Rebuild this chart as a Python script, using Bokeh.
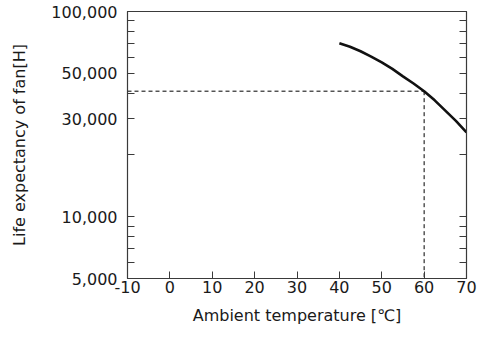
from bokeh.plotting import figure
from bokeh.models import Range1d, LogAxis, FixedTicker
from bokeh.embed import file_html
from bokeh.resources import INLINE

# Data
temps = [40, 42.5, 45, 47.5, 50, 52.5, 55, 57.5, 60, 62.5, 65, 67.5, 70]
life_hours = [70000, 67300, 64000, 60300, 56500, 52500, 48300, 44600,
              40900, 36900, 32900, 29300, 25800]
ref_temp = 60
ref_life = 40900

x_ticks = [-10, 0, 10, 20, 30, 40, 50, 60, 70]
y_major = [5000, 10000, 30000, 50000, 100000]
y_minor = [6000, 7000, 8000, 9000, 20000, 40000, 60000, 70000, 80000, 90000]
y_labels = ["5,000", "10,000", "30,000", "50,000", "100,000"]

FONT = "DejaVu Sans"
TXT = "#1a1a1a"
AX = "#3a3a3a"
FS = "16px"

p = figure(width=478, height=340, y_axis_type="log",
           x_range=Range1d(-10, 70), y_range=Range1d(5000, 100000),
           output_backend="svg", toolbar_location=None,
           min_border_left=127, min_border_right=12,
           min_border_top=11, min_border_bottom=62)
p.grid.visible = False
p.outline_line_color = AX
p.outline_line_width = 1.2
p.background_fill_color = "white"
p.border_fill_color = "white"

# x axis
xa = p.xaxis[0]
xa.ticker = FixedTicker(ticks=x_ticks, minor_ticks=[])
xa.major_label_overrides = {t: str(t) for t in x_ticks}
xa.major_tick_in = 7
xa.major_tick_out = 0
xa.minor_tick_line_color = None
xa.axis_line_color = AX
xa.major_tick_line_color = AX
xa.major_label_text_font = FONT
xa.major_label_text_font_size = FS
xa.major_label_text_color = TXT
xa.major_label_standoff = 2
xa.axis_label = "Ambient temperature [℃]"
xa.axis_label_text_font = FONT
xa.axis_label_text_font_size = FS
xa.axis_label_text_font_style = "normal"
xa.axis_label_text_color = TXT
xa.axis_label_standoff = 10

# y axis (left)
ya = p.yaxis[0]
ya.ticker = FixedTicker(ticks=y_major, minor_ticks=y_minor)
ya.major_label_overrides = dict(zip(y_major, y_labels))
ya.major_tick_in = 7
ya.major_tick_out = 0
ya.minor_tick_in = 7
ya.minor_tick_out = 0
ya.axis_line_color = AX
ya.major_tick_line_color = AX
ya.minor_tick_line_color = AX
ya.major_label_text_font = FONT
ya.major_label_text_font_size = FS
ya.major_label_text_color = TXT
ya.major_label_standoff = 10
ya.axis_label = "Life expectancy of fan[H]"
ya.axis_label_text_font = FONT
ya.axis_label_text_font_size = FS
ya.axis_label_text_font_style = "normal"
ya.axis_label_text_color = TXT
ya.axis_label_standoff = 19

# right axis with ticks only (all drawn as minor ticks, so no labels)
ra = LogAxis(ticker=FixedTicker(ticks=[], minor_ticks=y_major + y_minor))
ra.major_label_standoff = 0
ra.major_tick_in = 0
ra.major_tick_out = 0
ra.minor_tick_in = 7
ra.minor_tick_out = 0
ra.axis_line_color = AX
ra.minor_tick_line_color = AX
p.add_layout(ra, "right")

# reference dashed lines
p.line([x_ticks[0], ref_temp], [ref_life, ref_life], line_color="black",
       line_width=1, line_dash="4 3")
p.line([ref_temp, ref_temp], [ref_life, y_major[0]], line_color="black",
       line_width=1, line_dash="4 3")

# curve
p.line(temps, life_hours, line_color="#111111", line_width=2.6)

open("out.html", "w").write(file_html(p, INLINE))
